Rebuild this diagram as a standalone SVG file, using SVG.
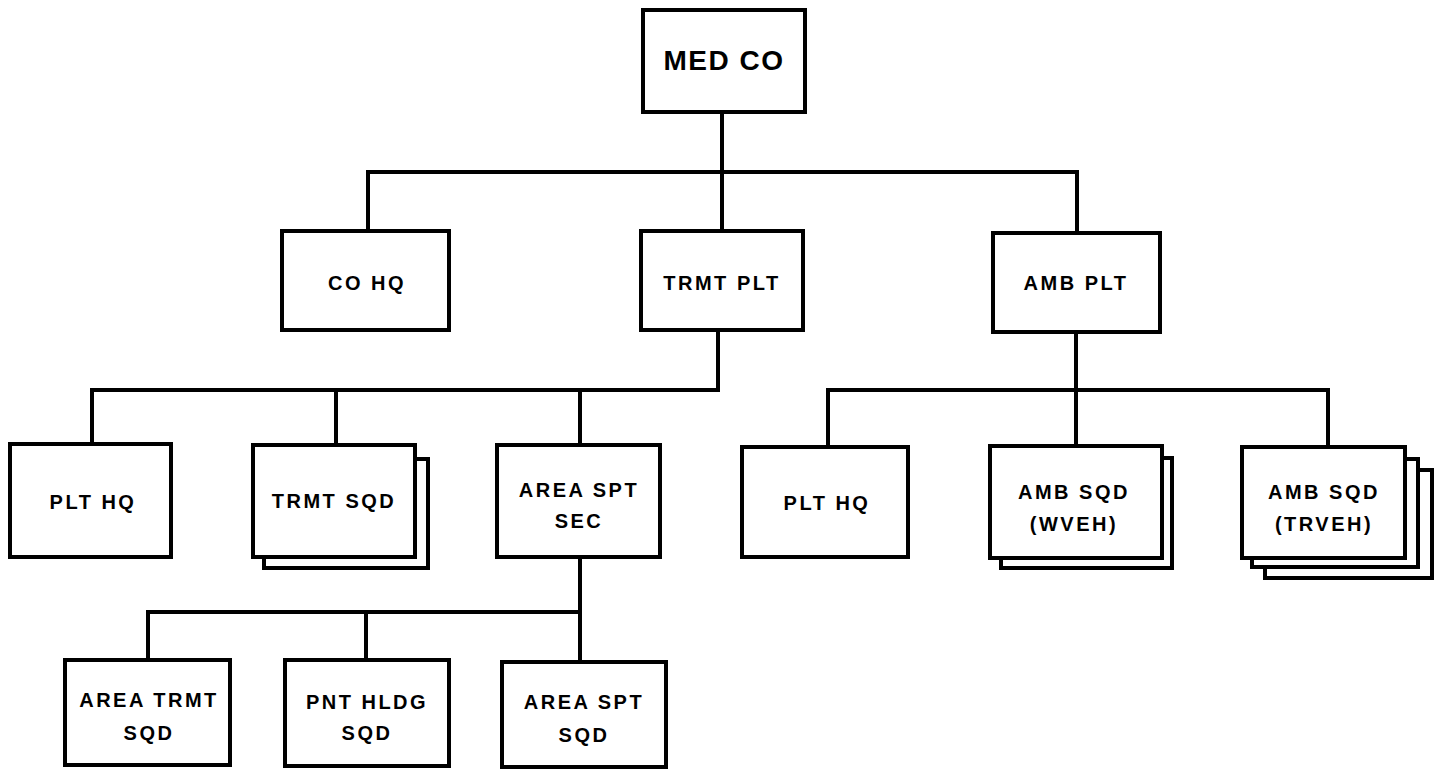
<svg xmlns="http://www.w3.org/2000/svg" width="1440" height="772" viewBox="0 0 1440 772">
<style>
.b{fill:#fff;stroke:#000;stroke-width:4}
.c{fill:none;stroke:#000;stroke-width:4;stroke-linecap:square}
text{font-family:"Liberation Sans",Arial,sans-serif;font-weight:bold;font-size:20px;letter-spacing:2.5px;fill:#000;text-anchor:middle}
.big{font-size:28px;letter-spacing:1.5px}
</style>
<rect width="1440" height="772" fill="#fff"/>
<g id="connectors">
<path class="c" d="M722 112V172M368 172H1077M368 172V231M722 172V231M1077 172V233"/>
<path class="c" d="M718 330V390M92 390H718M92 390V444M336 390V445M580 390V445"/>
<path class="c" d="M1076 332V390M828 390H1328M828 390V447M1076 390V446M1328 390V447"/>
<path class="c" d="M580 557V612M148 612H580M148 612V660M366 612V660M580 612V662"/>
</g>
<g id="med-co"><rect class="b" x="643" y="10" width="162" height="102"/><text class="big" x="724" y="70">MED CO</text></g>
<g id="co-hq"><rect class="b" x="282" y="231" width="167" height="99"/><text x="367" y="290">CO HQ</text></g>
<g id="trmt-plt"><rect class="b" x="641" y="231" width="162" height="99"/><text x="722" y="290">TRMT PLT</text></g>
<g id="amb-plt"><rect class="b" x="993" y="233" width="167" height="99"/><text x="1076" y="290">AMB PLT</text></g>
<g id="plt-hq-1"><rect class="b" x="10" y="444" width="161" height="113"/><text x="93" y="509">PLT HQ</text></g>
<g id="trmt-sqd"><rect class="b" x="264" y="459" width="164" height="109"/><rect class="b" x="253" y="445" width="162" height="112"/><text x="334" y="508">TRMT SQD</text></g>
<g id="area-spt-sec"><rect class="b" x="497" y="445" width="163" height="112"/><text x="579" y="497">AREA SPT</text><text x="579" y="528">SEC</text></g>
<g id="plt-hq-2"><rect class="b" x="742" y="447" width="166" height="110"/><text x="827" y="510">PLT HQ</text></g>
<g id="amb-sqd-wveh"><rect class="b" x="1001" y="458" width="171" height="110"/><rect class="b" x="990" y="446" width="172" height="112"/><text x="1074" y="499">AMB SQD</text><text x="1074" y="531">(WVEH)</text></g>
<g id="amb-sqd-trveh"><rect class="b" x="1265" y="470" width="167" height="108"/><rect class="b" x="1252" y="459" width="166" height="108"/><rect class="b" x="1242" y="447" width="163" height="111"/><text x="1324" y="499">AMB SQD</text><text x="1324" y="531">(TRVEH)</text></g>
<g id="area-trmt-sqd"><rect class="b" x="65" y="660" width="165" height="105"/><text x="149" y="707">AREA TRMT</text><text x="149" y="740">SQD</text></g>
<g id="pnt-hldg-sqd"><rect class="b" x="285" y="660" width="164" height="106"/><text x="367" y="709">PNT HLDG</text><text x="367" y="740">SQD</text></g>
<g id="area-spt-sqd"><rect class="b" x="502" y="662" width="164" height="105"/><text x="584" y="709">AREA SPT</text><text x="584" y="742">SQD</text></g>
</svg>
